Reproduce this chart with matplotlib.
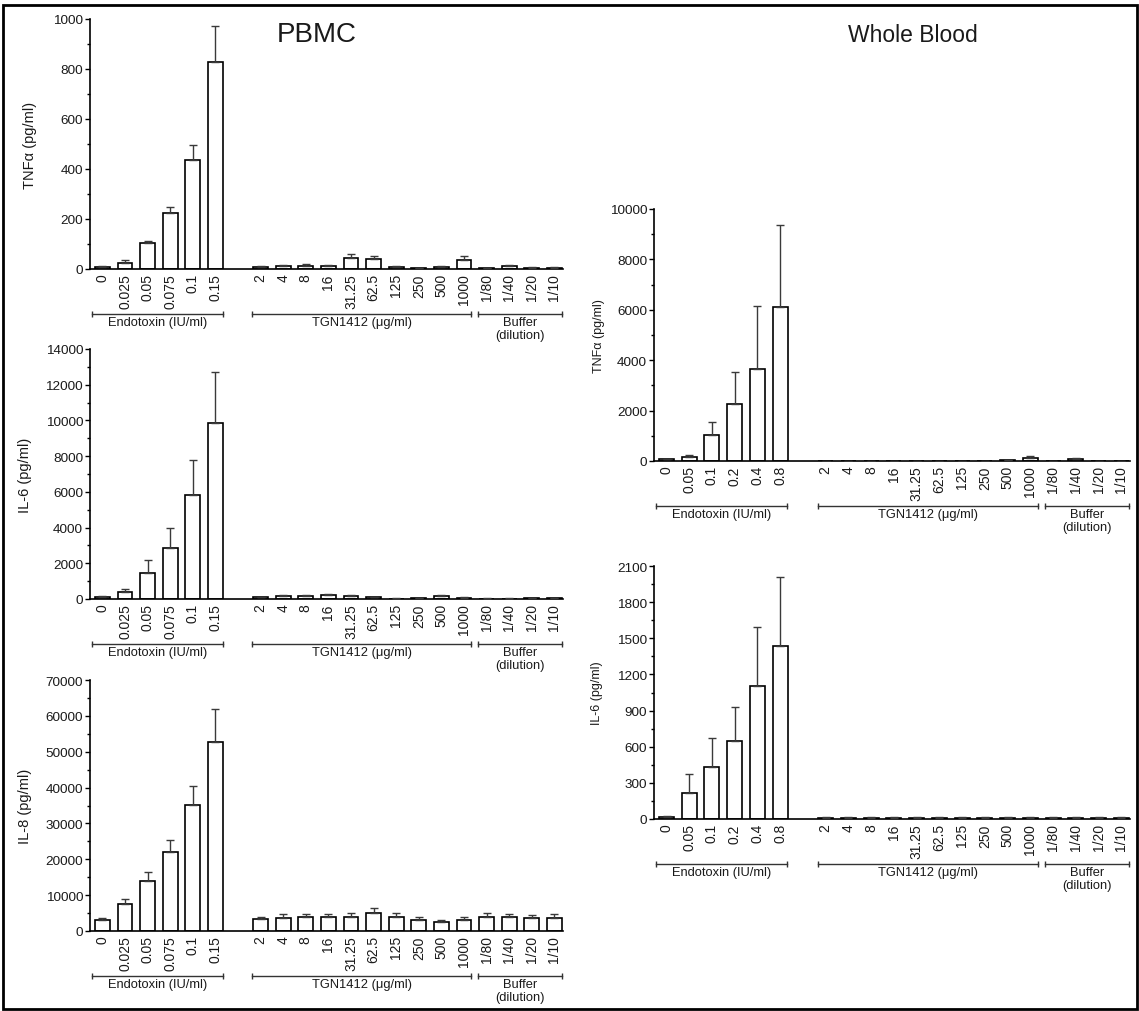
import matplotlib
matplotlib.use('Agg')
import matplotlib.pyplot as plt
import matplotlib.transforms as mtransforms
from matplotlib.patches import Rectangle
from matplotlib.ticker import MultipleLocator
import numpy as np

plt.rcParams['font.family'] = ['Liberation Sans', 'DejaVu Sans']

W, H, DPI = 1139, 1012, 100
TXT = '#1a1a1a'

# ---------------- data ----------------
endo_pbmc = ['0', '0.025', '0.05', '0.075', '0.1', '0.15']
endo_wb = ['0', '0.05', '0.1', '0.2', '0.4', '0.8']
tgn_doses = ['2', '4', '8', '16', '31.25', '62.5', '125', '250', '500', '1000']
buffer_dil = ['1/80', '1/40', '1/20', '1/10']
group_names = ['Endotoxin (IU/ml)', 'TGN1412 (\u03bcg/ml)', 'Buffer\n(dilution)']

pbmc_tnf = [7, 25, 103, 224, 436, 827,
            9, 13, 14, 12, 43, 42, 9, 4, 10, 38,
            4, 13, 6, 6]
pbmc_tnf_err = [4, 13, 10, 23, 60, 146,
                4, 5, 7, 5, 17, 12, 4, 2, 4, 15,
                2, 5, 3, 3]

pbmc_il6 = [120, 410, 1440, 2860, 5840, 9840,
            100, 180, 160, 230, 190, 90, 20, 30, 150, 70,
            20, 20, 30, 40]
pbmc_il6_err = [40, 150, 740, 1120, 1950, 2860,
                40, 50, 40, 50, 50, 30, 10, 10, 80, 30,
                10, 10, 10, 10]

pbmc_il8 = [3100, 7400, 13900, 22000, 35100, 52600,
            3300, 3700, 3800, 3900, 4000, 5000, 3900, 3200, 2500, 3100,
            3900, 3800, 3500, 3700]
pbmc_il8_err = [600, 1600, 2500, 3350, 5200, 9200,
                700, 1000, 850, 950, 1100, 1400, 1100, 750, 450, 900,
                1100, 850, 1050, 1150]

wb_tnf = [60, 150, 1050, 2280, 3640, 6120,
          0, 0, 0, 0, 10, 0, 10, 0, 30, 120,
          0, 60, 10, 0]
wb_tnf_err = [30, 90, 500, 1270, 2530, 3250,
              0, 0, 0, 0, 5, 0, 5, 0, 20, 80,
              0, 40, 5, 0]

wb_il6 = [15, 215, 432, 648, 1100, 1435,
          10, 10, 10, 10, 10, 10, 10, 10, 10, 10,
          10, 10, 10, 10]
wb_il6_err = [10, 155, 240, 285, 490, 570,
              5, 5, 5, 5, 5, 5, 5, 5, 5, 5,
              5, 5, 5, 5]

# ---------------- figure ----------------
fig = plt.figure(figsize=(W / DPI, H / DPI), dpi=DPI)
fig.patch.set_facecolor('white')

group_sizes = [len(endo_pbmc), len(tgn_doses), len(buffer_dil)]
gaps = [0, 1, 0]
positions = []
group_spans = []
cur = 0
for size, gap in zip(group_sizes, gaps):
    cur += gap
    group_spans.append((cur, cur + size - 1))
    positions.extend(range(cur, cur + size))
    cur += size
positions = np.array(positions, dtype=float)


def px_rect(x0, ytop, x1, ybot):
    return [x0 / W, 1 - ybot / H, (x1 - x0) / W, (ybot - ytop) / H]


def panel(rect, endo_labels, vals, errs, ymax, major, ylabel, ylab_x, ylab_size):
    ax = fig.add_axes(px_rect(*rect))
    labels = endo_labels + tgn_doses + buffer_dil
    ax.bar(positions, vals, width=0.66, color='white', edgecolor='black',
           linewidth=1.2, zorder=2)
    ax.errorbar(positions, vals, yerr=[np.zeros(len(errs)), errs], fmt='none',
                ecolor='#3a3a3a', elinewidth=1.0, capsize=3.2, capthick=1.0,
                zorder=3)
    ax.set_xlim(-0.55, 20.38)
    ax.set_ylim(0, ymax)
    ax.set_yticks(np.arange(0, ymax + 1, major))
    ax.yaxis.set_minor_locator(MultipleLocator(major / 2))
    ax.set_xticks(positions)
    ax.set_xticklabels(labels, rotation=90, fontsize=10, color=TXT)
    ax.tick_params(axis='x', length=0, pad=3)
    ax.tick_params(axis='y', which='major', length=3.5, width=1.0,
                   labelsize=9.7, labelcolor=TXT, pad=1.5)
    ax.tick_params(axis='y', which='minor', length=2.2, width=1.0)
    for lab in ax.get_xticklabels():
        lab.set_va('top')
    for s in ['top', 'right']:
        ax.spines[s].set_visible(False)
    for s in ['left', 'bottom']:
        ax.spines[s].set_linewidth(1.2)
    ax.set_facecolor('none')
    ax.set_ylabel(ylabel, fontsize=ylab_size, color=TXT)
    ax.yaxis.label.set(ha='center', va='center', rotation_mode='anchor')
    ax.yaxis.set_label_coords((ylab_x - rect[0]) / (rect[2] - rect[0]), 0.5)

    line_tr = mtransforms.offset_copy(ax.get_xaxis_transform(), fig=fig,
                                      x=0, y=-45, units='dots')
    text_tr = mtransforms.offset_copy(ax.get_xaxis_transform(), fig=fig,
                                      x=0, y=-47, units='dots')
    for gi, ((a, b), name) in enumerate(zip(group_spans, group_names)):
        x0 = -0.46 if gi == 0 else a - 0.36
        x1 = b + 0.32
        ax.plot([x0, x1], [0, 0], color='#333333', lw=1.0, marker='|',
                markersize=5, markeredgewidth=1.0, transform=line_tr,
                clip_on=False)
        ax.text((x0 + x1) / 2, 0, name, ha='center', va='top', fontsize=9.3,
                color=TXT, transform=text_tr, linespacing=1.15)
    return ax


panel((90, 20, 563, 270), endo_pbmc, pbmc_tnf, pbmc_tnf_err, 1000, 200,
      'TNF\u03b1 (pg/ml)', 30, 10.5)
panel((90, 350, 563, 600), endo_pbmc, pbmc_il6, pbmc_il6_err, 14000, 2000,
      'IL-6 (pg/ml)', 25, 10.5)
panel((90, 681, 563, 932), endo_pbmc, pbmc_il8, pbmc_il8_err, 70000, 10000,
      'IL-8 (pg/ml)', 25, 10.5)
panel((654, 210, 1130, 462), endo_wb, wb_tnf, wb_tnf_err, 10000, 2000,
      'TNF\u03b1 (pg/ml)', 599, 9)
panel((654, 567, 1130, 820), endo_wb, wb_il6, wb_il6_err, 2100, 300,
      'IL-6 (pg/ml)', 597, 9)

fig.text(317 / W, 1 - 35 / H, 'PBMC', ha='center', va='center', fontsize=20,
         color=TXT)
fig.text(913 / W, 1 - 35 / H, 'Whole Blood', ha='center', va='center',
         fontsize=16.5, color=TXT)

border = Rectangle((3 / W, 2 / H), (1134) / W, (1004) / H, transform=fig.transFigure,
                   fill=False, edgecolor='black', linewidth=2.0)
fig.add_artist(border)

fig.savefig('out.png', dpi=DPI, facecolor='white')
